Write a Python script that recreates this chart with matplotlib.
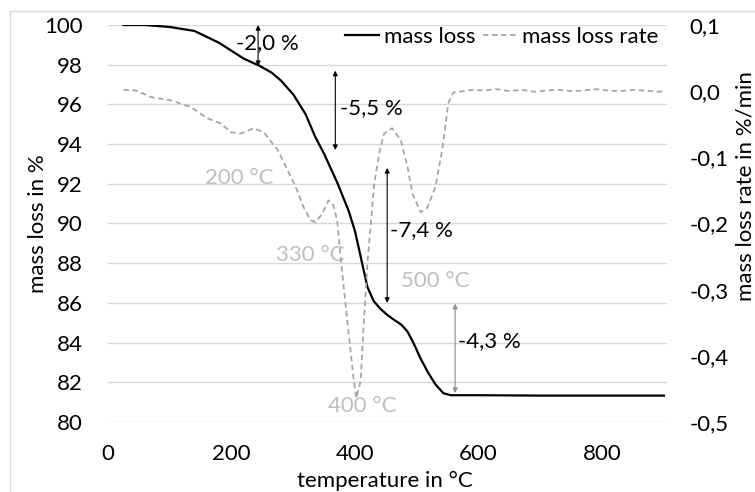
#!/usr/bin/env python3
# TGA curve: mass loss (left axis) and mass loss rate (right axis) vs temperature

import matplotlib
matplotlib.use("Agg")
import matplotlib.pyplot as plt
from matplotlib.patches import Rectangle
from matplotlib.ticker import FuncFormatter

# mass loss curve
temp_mass = [25, 60, 100, 140, 180, 200, 220, 245, 265, 280, 300, 320, 335, 350,
             372, 390, 400, 410, 420, 430, 441, 452, 463, 475, 485, 495, 506,
             518, 530, 543, 555, 600, 700, 800, 900]
mass = [100.0, 100.0, 99.9, 99.7, 99.1, 98.7, 98.3, 97.95, 97.6, 97.2, 96.5,
        95.5, 94.4, 93.5, 92.0, 90.6, 89.6, 88.2, 86.8, 86.1, 85.7, 85.4,
        85.15, 84.9, 84.55, 83.95, 83.2, 82.5, 81.9, 81.45, 81.35, 81.35,
        81.33, 81.33, 81.33]

# mass loss rate curve (%/min)
temp_rate = [25, 45, 70, 102, 134, 161, 183, 199, 215, 236, 252, 275, 291, 304,
             317, 328, 336, 347, 357, 365, 371, 377, 388, 398, 402, 409, 414,
             420, 431, 440, 447, 460, 474, 485, 493, 506, 517, 530, 541, 551,
             559, 575, 590, 610, 630, 650, 670, 690, 710, 730, 750, 770, 790,
             810, 830, 850, 870, 890, 900]
rate = [0.002, 0.001, -0.009, -0.014, -0.024, -0.041, -0.049, -0.062, -0.064,
        -0.056, -0.062, -0.089, -0.12, -0.145, -0.176, -0.195, -0.198, -0.185,
        -0.165, -0.173, -0.195, -0.256, -0.352, -0.438, -0.464, -0.438, -0.352,
        -0.26, -0.139, -0.09, -0.064, -0.056, -0.074, -0.115, -0.155, -0.183,
        -0.176, -0.145, -0.089, -0.018, -0.002, 0.0, 0.002, 0.001, 0.003, 0.0,
        0.002, -0.001, 0.001, 0.002, 0.0, 0.001, 0.003, 0.001, 0.0, 0.002,
        0.001, -0.001, 0.0]

# step annotations: (label, temperature, mass from, mass to, text temp, text mass, colour)
steps = [
    ("-2,0 %", 243, 100.0, 97.93, 208, 99.1, "black"),
    ("-5,5 %", 368, 97.7, 93.7, 376, 95.8, "black"),
    ("-7,4 %", 452, 92.8, 86.0, 457, 89.65, "black"),
    ("-4,3 %", 562, 85.96, 81.46, 567, 84.1, "#8c8c8c"),
]

# peak labels (gray)
peak_labels = ["200 °C", "330 °C", "400 °C", "500 °C"]
peak_x = [213, 328, 411, 530]
peak_y = [92.3, 88.4, 80.8, 87.1]

plt.rcParams["font.family"] = ["Lato", "DejaVu Sans"]
plt.rcParams["font.size"] = 16

fig = plt.figure(figsize=(7.55, 4.92), dpi=100)
ax = fig.add_axes([108 / 755, 1 - 422 / 492, 559 / 755, 397 / 492])
ax2 = ax.twinx()

ax.plot(temp_mass, mass, color="black", lw=1.6, label="mass loss", zorder=3)
ax2.plot(temp_rate, rate, color="#a6a6a6", lw=1.3, ls=(0, (3, 2)),
         label="mass loss rate")

ax.set_xlim(0, 905)
ax.set_ylim(80, 100)
ax2.set_ylim(-0.5, 0.1)
ax.set_xticks([0, 200, 400, 600, 800])
ax.set_yticks(range(80, 101, 2))
ax2.set_yticks([-0.5, -0.4, -0.3, -0.2, -0.1, 0.0, 0.1])
ax2.yaxis.set_major_formatter(FuncFormatter(lambda v, p: f"{v:.1f}".replace(".", ",")))

ax.grid(axis="y", color="#d9d9d9", lw=1)
ax.set_axisbelow(True)
for a in (ax, ax2):
    for s in a.spines.values():
        s.set_visible(False)
    a.tick_params(length=0)
ax.tick_params(axis="y", pad=18)
ax.tick_params(axis="x", pad=16)
ax2.tick_params(axis="y", pad=16)

for label, t, m0, m1, tx, ty, col in steps:
    ax.annotate("", xy=(t, m1), xytext=(t, m0),
                arrowprops=dict(arrowstyle="<|-|>", mutation_scale=7, lw=0.8,
                                color=col, shrinkA=0, shrinkB=0))
    ax.text(tx, ty, label, ha="left", va="center", color="black")

for lab, x, y in zip(peak_labels, peak_x, peak_y):
    ax.text(x, y, lab, ha="center", va="center", color="#bfbfbf")

h1, l1 = ax.get_legend_handles_labels()
h2, l2 = ax2.get_legend_handles_labels()
ax2.legend(h1 + h2, l1 + l2, loc="center right", bbox_to_anchor=(0.985, 0.97),
           ncol=2, frameon=False, handlelength=1.5, handletextpad=0.25,
           columnspacing=0.35, borderpad=0, borderaxespad=0)

fig.text(38 / 755, 1 - 224 / 492, "mass loss in %", rotation=90,
         ha="center", va="center")
fig.text(745 / 755, 1 - 186 / 492, "mass loss rate in %/min", rotation=90,
         ha="center", va="center")
fig.text(385 / 755, 1 - 481 / 492, "temperature in °C", ha="center", va="center")

# chart area border
fig.patches.append(Rectangle((9.5 / 755, -0.1), 1.2, 1.1 - 10.5 / 492,
                             transform=fig.transFigure, fill=False,
                             edgecolor="#d9d9d9", lw=1))

fig.savefig("out.png", dpi=100)
